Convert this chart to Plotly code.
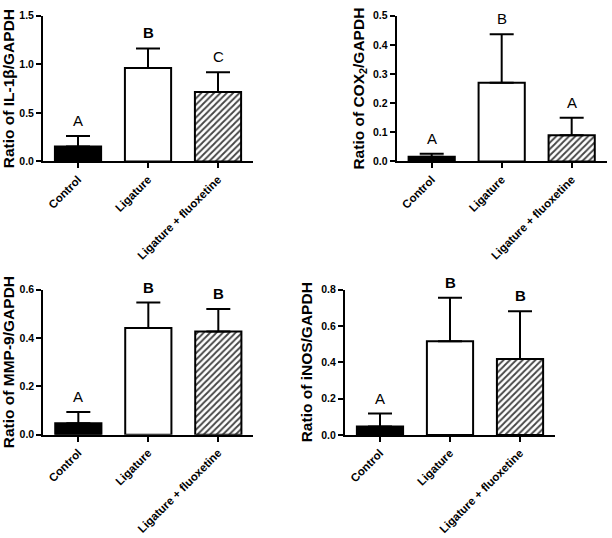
import plotly.graph_objects as go

categories = ["Control", "Ligature", "Ligature + fluoxetine"]

il1b_mean = [0.155, 0.962, 0.716]
il1b_sem = [0.107, 0.202, 0.202]
il1b_letters = ["A", "B", "C"]
il1b_bold = [False, True, False]

cox2_mean = [0.016, 0.270, 0.090]
cox2_sem = [0.010, 0.167, 0.060]
cox2_letters = ["A", "B", "A"]
cox2_bold = [False, False, False]

mmp9_mean = [0.047, 0.441, 0.426]
mmp9_sem = [0.047, 0.105, 0.093]
mmp9_letters = ["A", "B", "B"]
mmp9_bold = [False, True, True]

inos_mean = [0.047, 0.516, 0.418]
inos_sem = [0.071, 0.239, 0.262]
inos_letters = ["A", "B", "B"]
inos_bold = [False, True, True]

panels = [
    dict(mean=il1b_mean, sem=il1b_sem, letters=il1b_letters, bold=il1b_bold,
         title="Ratio of IL-1β/GAPDH", yrange=[0, 1.5], dtick=0.5, fmt=".1f",
         xdom=[0.0703, 0.4134], ydom=[0.7045, 0.9814]),
    dict(mean=cox2_mean, sem=cox2_sem, letters=cox2_letters, bold=cox2_bold,
         title="Ratio of COX<sub>2</sub>/GAPDH", yrange=[0, 0.5], dtick=0.1, fmt=".1f",
         xdom=[0.6482, 0.9913], ydom=[0.7045, 0.9814]),
    dict(mean=mmp9_mean, sem=mmp9_sem, letters=mmp9_letters, bold=mmp9_bold,
         title="Ratio of MMP-9/GAPDH", yrange=[0, 0.6], dtick=0.2, fmt=".1f",
         xdom=[0.0708, 0.4139], ydom=[0.1850, 0.4610]),
    dict(mean=inos_mean, sem=inos_sem, letters=inos_letters, bold=inos_bold,
         title="Ratio of iNOS/GAPDH", yrange=[0, 0.8], dtick=0.2, fmt=".1f",
         xdom=[0.5637, 0.9069], ydom=[0.1845, 0.4610]),
]

FONT = "Liberation Sans, Arial, sans-serif"
fig = go.Figure()
annotations = []

for i, p in enumerate(panels):
    n = "" if i == 0 else str(i + 1)
    xa, ya = "x" + n, "y" + n
    fig.add_trace(go.Bar(
        x=categories, y=p["mean"], xaxis=xa, yaxis=ya, width=0.66,
        marker=dict(
            color=["black", "white", "white"],
            line=dict(color="black", width=2),
            pattern=dict(shape=["", "", "/"], fgcolor="black", bgcolor="white",
                         fgopacity=1, size=4.5, solidity=0.4),
        ),
        error_y=dict(type="data", symmetric=False, array=p["sem"],
                     arrayminus=[0, 0, 0], color="black", thickness=2, width=12),
        showlegend=False,
    ))
    fig.layout["xaxis" + n] = dict(
        domain=p["xdom"], anchor=ya, range=[-0.5, 2.5], type="category",
        showline=True, linecolor="black", linewidth=2, ticks="outside",
        ticklen=5, tickwidth=1.5, tickcolor="black", tickangle=-45,
        tickfont=dict(family=FONT, size=11.5, color="black", weight="bold"),
        showgrid=False, zeroline=False, fixedrange=True,
    )
    fig.layout["yaxis" + n] = dict(
        domain=p["ydom"], anchor=xa, range=p["yrange"], dtick=p["dtick"],
        tickformat=p["fmt"], showline=True, linecolor="black", linewidth=2,
        ticks="outside", ticklen=5, tickwidth=1.5, tickcolor="black",
        tickfont=dict(family=FONT, size=10.5, color="black", weight="bold"),
        title=dict(text=p["title"], standoff=5,
                   font=dict(family=FONT, size=15.5, color="black", weight="bold")),
        showgrid=False, zeroline=False, fixedrange=True,
    )
    for j, cat in enumerate(categories):
        annotations.append(dict(
            x=cat, y=p["mean"][j] + p["sem"][j], xref=xa, yref=ya,
            text=p["letters"][j], showarrow=False, yanchor="bottom", yshift=5,
            font=dict(family=FONT, size=15, color="black",
                      weight="bold" if p["bold"][j] else "normal"),
        ))

fig.update_layout(
    width=612, height=538, margin=dict(l=0, r=0, t=0, b=0),
    paper_bgcolor="white", plot_bgcolor="white", bargap=0.34,
    annotations=annotations,
)
fig.write_html("out.html", config={"displayModeBar": False},
               post_script="document.body.style.margin='0';")
